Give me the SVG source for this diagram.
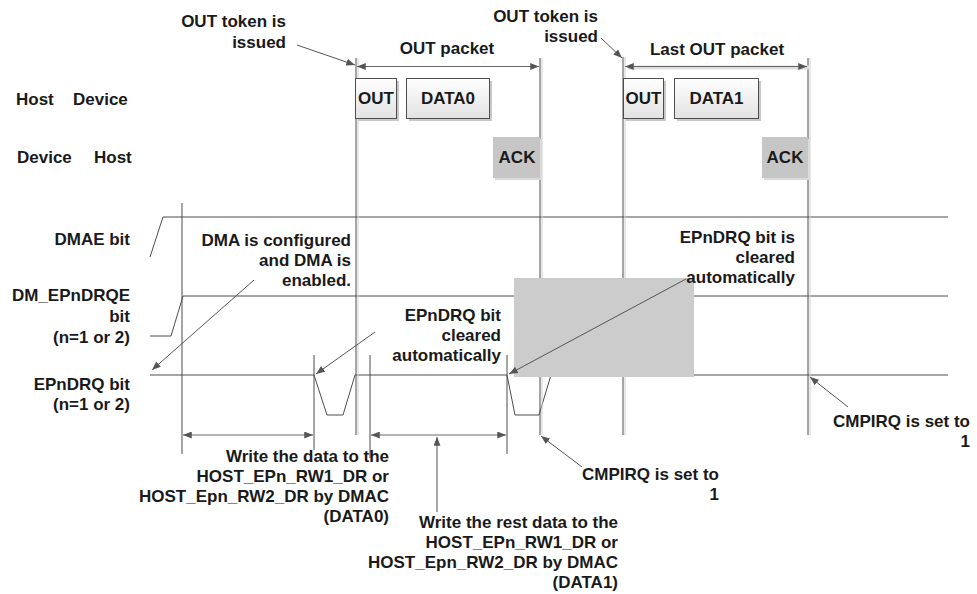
<svg xmlns="http://www.w3.org/2000/svg" width="977" height="594" viewBox="0 0 977 594">
<defs>
<linearGradient id="pk" x1="0" y1="0" x2="0" y2="1"><stop offset="0" stop-color="#ffffff"/><stop offset="1" stop-color="#e2e2e2"/></linearGradient>
<marker id="ah" viewBox="0 0 10 8" refX="10" refY="4" markerWidth="9" markerHeight="7" markerUnits="userSpaceOnUse" orient="auto-start-reverse"><path d="M0,0 L10,4 L0,8 z" fill="#555"/></marker>
</defs>
<style>
text{font-family:"Liberation Sans",Arial,Helvetica,sans-serif;font-weight:bold;font-size:17px;fill:#1a1a1a}
.r{text-anchor:end}
.m{text-anchor:middle}
.ln{stroke:#4d4d4d;stroke-width:1;fill:none}
.sh{stroke:#cfcfcf;stroke-width:1;fill:none}
.ar{stroke:#555;stroke-width:1;fill:none;marker-end:url(#ah)}
.dim{stroke:#666;stroke-width:1.2;fill:none;marker-start:url(#ah);marker-end:url(#ah)}
.pkt{fill:url(#pk);stroke:#4d4d4d;stroke-width:1}
.pks{fill:#c8c8c8}
.ack{fill:#c6c6c6}
.acks{fill:#dadada}
</style>
<rect x="0" y="0" width="977" height="594" fill="#ffffff"/>

<g id="row-labels">
<text y="105"><tspan x="16">Host</tspan><tspan x="73">Device</tspan></text>
<text y="163"><tspan x="17">Device</tspan><tspan x="94">Host</tspan></text>
<text class="r" x="130" y="245">DMAE bit</text>
<text class="r" x="130" y="301">DM_EPnDRQE</text>
<text class="r" x="130" y="322">bit</text>
<text class="r" x="130" y="343">(n=1 or 2)</text>
<text class="r" x="130" y="390">EPnDRQ bit</text>
<text class="r" x="130" y="410">(n=1 or 2)</text>
</g>

<g id="signals">
<path class="ln" d="M150,257 L163,217 L948,217"/>
<path class="ln" d="M150,336 L171,336 L183,296 L948,296"/>
<path class="ln" d="M150,375 L314,375 L327,415 L343,415 L355,375 L507,375 L515,415 L539,415 L551,375 L948,375"/>
</g>

<g id="timelines">
<line class="ln" x1="182" y1="203" x2="182" y2="454"/>
<line class="ln" x1="314" y1="355" x2="314" y2="450"/>
<line class="sh" x1="358" y1="58" x2="358" y2="435"/>
<line class="ln" x1="356" y1="58" x2="356" y2="435"/>
<line class="ln" x1="370" y1="355" x2="370" y2="458"/>
<line class="ln" x1="507" y1="355" x2="507" y2="454"/>
<line class="sh" x1="542" y1="58" x2="542" y2="435"/>
<line class="ln" x1="540" y1="58" x2="540" y2="435"/>
<line class="sh" x1="625" y1="57" x2="625" y2="435"/>
<line class="ln" x1="623" y1="57" x2="623" y2="435"/>
<line class="sh" x1="810" y1="58" x2="810" y2="435"/>
<line class="ln" x1="808" y1="58" x2="808" y2="435"/>
</g>

<g id="pkt-out1">
<rect class="pks" x="358" y="81" width="41" height="40"/>
<rect class="pkt" x="355.5" y="78.5" width="41" height="40"/>
<text class="m" x="376" y="104">OUT</text>
</g>
<g id="pkt-data0">
<rect class="pks" x="409" y="81" width="83" height="40"/>
<rect class="pkt" x="406.5" y="78.5" width="83" height="40"/>
<text class="m" x="448" y="104">DATA0</text>
</g>
<g id="pkt-ack1">
<rect class="acks" x="495" y="139" width="47" height="41"/>
<rect class="ack" x="493" y="137" width="47" height="41"/>
<text class="m" x="517" y="163">ACK</text>
</g>
<g id="pkt-out2">
<rect class="pks" x="626" y="81" width="40" height="40"/>
<rect class="pkt" x="623.5" y="78.5" width="40" height="40"/>
<text class="m" x="643.5" y="104">OUT</text>
</g>
<g id="pkt-data1">
<rect class="pks" x="677" y="81" width="84" height="40"/>
<rect class="pkt" x="674.5" y="78.5" width="84" height="40"/>
<text class="m" x="716.5" y="104">DATA1</text>
</g>
<g id="pkt-ack2">
<rect class="acks" x="764" y="139" width="46" height="41"/>
<rect class="ack" x="762" y="137" width="46" height="41"/>
<text class="m" x="785" y="163">ACK</text>
</g>

<g id="clear-region">
<rect x="514" y="278" width="180" height="99" fill="#cccccc"/>
</g>

<g id="connectors">
<line class="dim" x1="357" y1="66.5" x2="539" y2="66.5"/>
<line x1="628" y1="67.5" x2="809" y2="67.5" stroke="#dddddd" stroke-width="4"/>
<line class="dim" x1="625" y1="66.5" x2="807" y2="66.5"/>
<line class="dim" x1="183" y1="435" x2="313" y2="435"/>
<line class="dim" x1="371" y1="435" x2="506" y2="435"/>
<line class="ar" x1="297" y1="45" x2="355" y2="65"/>
<line class="ar" x1="601" y1="38" x2="622" y2="58"/>
<line class="ar" x1="254" y1="280" x2="152" y2="370"/>
<line class="ar" x1="375" y1="332" x2="316" y2="374"/>
<line class="ar" x1="686" y1="279" x2="509" y2="374"/>
<line class="ar" x1="582" y1="467" x2="541" y2="436"/>
<line class="ar" x1="848" y1="407" x2="810" y2="377"/>
<line class="ar" x1="437" y1="512" x2="437" y2="437"/>
</g>

<g id="annotations">
<text class="r" x="286" y="27">OUT token is</text>
<text class="r" x="286" y="48">issued</text>
<text class="m" x="447" y="54">OUT packet</text>
<text class="r" x="598" y="22">OUT token is</text>
<text class="r" x="598" y="42">issued</text>
<text class="m" x="717" y="55">Last OUT packet</text>
<text class="r" x="351" y="246">DMA is configured</text>
<text class="r" x="351" y="266">and DMA is</text>
<text class="r" x="351" y="286">enabled.</text>
<text class="r" x="501" y="321">EPnDRQ bit</text>
<text class="r" x="501" y="341">cleared</text>
<text class="r" x="501" y="361">automatically</text>
<text class="r" x="795" y="243">EPnDRQ bit is</text>
<text class="r" x="795" y="263">cleared</text>
<text class="r" x="795" y="283">automatically</text>
<text class="r" x="389" y="462">Write the data to the</text>
<text class="r" x="389" y="482">HOST_EPn_RW1_DR or</text>
<text class="r" x="389" y="502">HOST_Epn_RW2_DR by DMAC</text>
<text class="r" x="389" y="522">(DATA0)</text>
<text class="r" x="618" y="528">Write the rest data to the</text>
<text class="r" x="618" y="548">HOST_EPn_RW1_DR or</text>
<text class="r" x="618" y="568">HOST_Epn_RW2_DR by DMAC</text>
<text class="r" x="618" y="588">(DATA1)</text>
<text class="r" x="719" y="480">CMPIRQ is set to</text>
<text class="r" x="719" y="500">1</text>
<text class="r" x="970" y="427">CMPIRQ is set to</text>
<text class="r" x="970" y="447">1</text>
</g>
</svg>
